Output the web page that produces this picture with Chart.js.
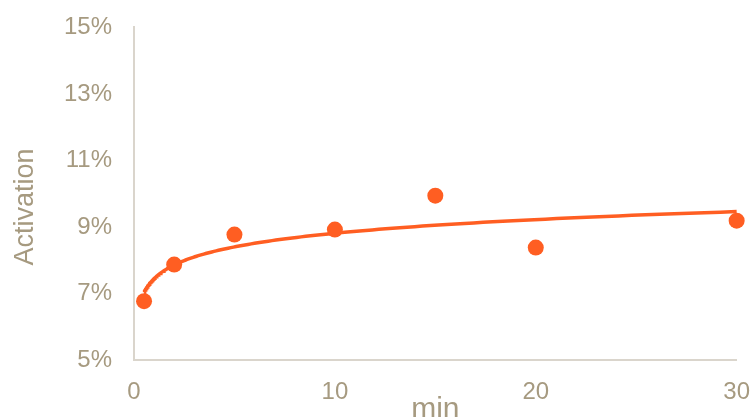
<!DOCTYPE html>
<html>
<head>
<meta charset="utf-8">
<script src="https://cdn.jsdelivr.net/npm/chart.js@4.4.1/dist/chart.umd.min.js"></script>
<style>
  html, body { margin: 0; padding: 0; background: #ffffff; overflow: hidden; width: 750px; height: 417px; position: relative; }
  #wrap { position: absolute; left: 0; top: -9px; width: 768px; height: 426px; }
</style>
</head>
<body>
<div id="wrap"><canvas id="c"></canvas></div>
<script>
// Measured activation (%) after each incubation time (min)
const minutes = [0.5, 2, 5, 10, 15, 20, 30];
const activation = [6.77, 7.87, 8.77, 8.92, 9.94, 8.38, 9.19];

// Axis ticks
const yTicks = [5, 7, 9, 11, 13, 15];
const xTicks = [0, 10, 20, 30];

const FONT = '"Liberation Sans", Arial, Helvetica, sans-serif';
const TEXT = '#a69a80';
const AXIS = '#dad5cc';
const ORANGE = '#ff5e22';

// Logarithmic trendline y = a + b*ln(x), least-squares fit over the measurements
function logFit(xs, ys) {
  const lx = xs.map(Math.log);
  const n = xs.length;
  const mx = lx.reduce((s, v) => s + v, 0) / n;
  const my = ys.reduce((s, v) => s + v, 0) / n;
  let sxy = 0, sxx = 0;
  for (let i = 0; i < n; i++) {
    sxy += (lx[i] - mx) * (ys[i] - my);
    sxx += (lx[i] - mx) * (lx[i] - mx);
  }
  const b = sxy / sxx;
  return { a: my - b * mx, b };
}
const fit = logFit(minutes, activation);
const xFirst = Math.min(...minutes), xLast = Math.max(...minutes);
const trend = [];
for (let i = 0; i <= 150; i++) {
  const x = xFirst * Math.pow(xLast / xFirst, i / 150);
  trend.push({ x, y: fit.a + fit.b * Math.log(x) });
}

// Rotated y-axis caption (canvas is shifted up by 9px inside the page)
const yCaption = {
  id: 'yCaption',
  afterDraw(chart) {
    const ctx = chart.ctx;
    ctx.save();
    ctx.translate(33, 216);
    ctx.rotate(-Math.PI / 2);
    ctx.font = '27px ' + FONT;
    ctx.fillStyle = TEXT;
    ctx.textAlign = 'center';
    ctx.textBaseline = 'alphabetic';
    ctx.fillText('Activation', 0, 0);
    ctx.restore();
  }
};

new Chart(document.getElementById('c'), {
  type: 'scatter',
  data: {
    datasets: [
      {
        label: 'Activation',
        data: minutes.map((m, i) => ({ x: m, y: activation[i] })),
        backgroundColor: ORANGE,
        borderColor: ORANGE,
        pointRadius: 8,
        pointHoverRadius: 8,
        borderWidth: 0,
        clip: false,
        order: 0
      },
      {
        label: 'Trend',
        type: 'line',
        data: trend,
        borderColor: ORANGE,
        borderWidth: 3.5,
        pointRadius: 0,
        fill: false,
        tension: 0,
        clip: false,
        order: 1
      }
    ]
  },
  plugins: [yCaption],
  options: {
    responsive: true,
    maintainAspectRatio: false,
    animation: false,
    layout: { autoPadding: false, padding: 0 },
    plugins: {
      legend: { display: false },
      tooltip: { enabled: false }
    },
    scales: {
      x: {
        type: 'linear',
        min: 0,
        max: 30,
        afterBuildTicks: s => { s.ticks = xTicks.map(v => ({ value: v })); },
        afterFit: s => { s.height = 57; },
        grid: { display: false, drawTicks: false },
        border: { display: true, color: AXIS, width: 2 },
        ticks: { color: TEXT, padding: 18, font: { family: FONT, size: 24 } },
        title: {
          display: true,
          text: 'min',
          color: TEXT,
          font: { family: FONT, size: 30, lineHeight: 1 },
          padding: { top: 0, bottom: -8 }
        }
      },
      y: {
        min: 5,
        max: 15,
        afterBuildTicks: s => { s.ticks = yTicks.map(v => ({ value: v })); },
        afterFit: s => { s.width = 134; },
        grid: { display: false, drawTicks: false },
        border: { display: true, color: AXIS, width: 2 },
        ticks: {
          color: TEXT,
          padding: 22,
          font: { family: FONT, size: 24 },
          callback: v => v + '%'
        }
      }
    }
  }
});
</script>
</body>
</html>
